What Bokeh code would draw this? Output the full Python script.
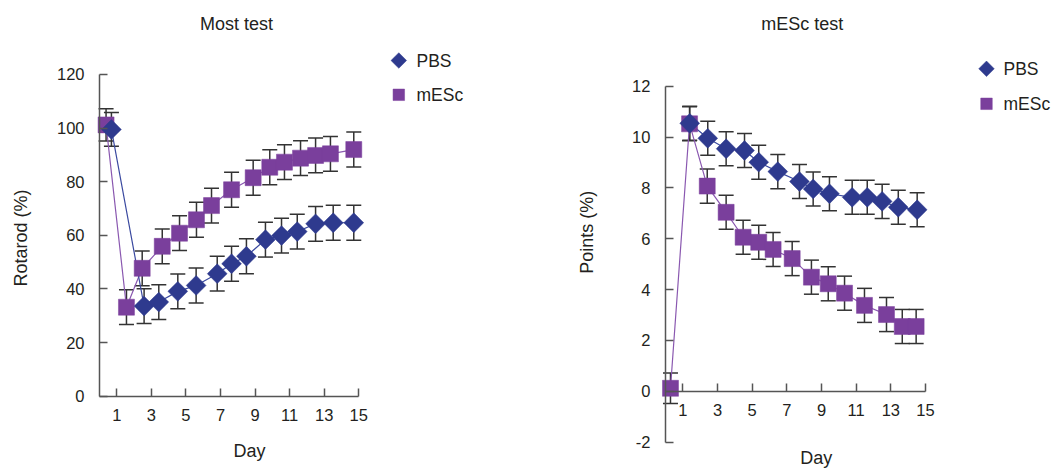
import math
from bokeh.plotting import figure
from bokeh.layouts import row
from bokeh.models import Range1d, FixedTicker, Whisker, TeeHead, ColumnDataSource
from bokeh.core.properties import value
from bokeh.embed import file_html
from bokeh.resources import INLINE

# ---------------- data ----------------
DAY_TICKS = [1, 3, 5, 7, 9, 11, 13, 15]
MOST_Y_TICKS = [0, 20, 40, 60, 80, 100, 120]
MESC_Y_TICKS = [-2, 0, 2, 4, 6, 8, 10, 12]
SERIES_NAMES = ["PBS", "mESc"]
PANEL_TITLES = ["Most test", "mESc test"]
X_LABEL = "Day"
Y_LABELS = ["Rotarod (%)", "Points (%)"]

MOST_PBS_DAY = [0.69, 2.58, 3.43, 4.53, 5.59, 6.81, 7.64, 8.50, 9.60, 10.53, 11.44, 12.50, 13.52, 14.71]
MOST_PBS_VAL = [99.5, 33.6, 35.1, 39.1, 41.3, 45.7, 49.4, 52.2, 58.4, 59.9, 61.4, 64.3, 64.7, 64.7]
MOST_PBS_ERR = [6.3, 6.5, 6.5, 6.5, 6.5, 6.5, 6.5, 6.5, 6.5, 6.5, 6.5, 6.5, 6.5, 6.5]

MOST_MESC_DAY = [0.38, 1.56, 2.47, 3.63, 4.63, 5.61, 6.48, 7.64, 8.89, 9.85, 10.70, 11.63, 12.50, 13.36, 14.71]
MOST_MESC_VAL = [101.2, 33.2, 47.7, 55.9, 60.8, 65.8, 71.1, 77.0, 81.5, 85.4, 87.3, 88.8, 89.8, 90.4, 92.0]
MOST_MESC_ERR = [6.0, 6.5, 6.5, 6.5, 6.5, 6.5, 6.5, 6.5, 6.5, 6.5, 6.5, 6.5, 6.5, 6.5, 6.5]

MESC_PBS_DAY = [1.40, 2.44, 3.50, 4.56, 5.38, 6.48, 7.73, 8.52, 9.46, 10.77, 11.64, 12.50, 13.43, 14.52]
MESC_PBS_VAL = [10.54, 9.95, 9.54, 9.47, 9.01, 8.64, 8.25, 7.96, 7.77, 7.63, 7.63, 7.47, 7.24, 7.14]
MESC_PBS_ERR = [0.67, 0.67, 0.67, 0.67, 0.67, 0.67, 0.67, 0.67, 0.67, 0.67, 0.67, 0.67, 0.67, 0.67]

MESC_MESC_DAY = [0.29, 1.39, 2.41, 3.50, 4.48, 5.38, 6.21, 7.31, 8.42, 9.39, 10.33, 11.48, 12.75, 13.66, 14.46]
MESC_MESC_VAL = [0.12, 10.52, 8.07, 7.04, 6.06, 5.86, 5.58, 5.22, 4.49, 4.23, 3.86, 3.38, 3.02, 2.55, 2.55]
MESC_MESC_ERR = [0.6, 0.67, 0.67, 0.67, 0.67, 0.67, 0.67, 0.67, 0.67, 0.67, 0.67, 0.67, 0.67, 0.67, 0.67]

# ---------------- styling / layout ----------------
FONT = "Liberation Sans"
TEXT_SIZE = "18px"
LEGEND_SIZE = "17.5px"
TICK_SIZE = "16.5px"
TEXT_COLOR = "#231f20"
AXIS_COLOR = "#555555"
ERR_COLOR = "#333333"
PBS_COLOR = "#2e3a8e"
MESC_COLOR = "#7a3f9c"
PBS_LINE = "#3b4aa0"
MESC_LINE = "#8a58b0"

PAGE_MARGIN = 0   # bokeh's page template has no body margin
CANVAS_H = 470
WIDTHS = [548, 505]

# page-pixel geometry of each panel's axes: (x origin px, px per day, y origin px, px per unit)
GEOMS = [(99.0, 17.286, 395.7, 2.681), (664.96, 17.336, 390.84, 25.43)]
Y_BOUNDS = [(0, 120), (-2, 12)]
Y_TICKS = [MOST_Y_TICKS, MESC_Y_TICKS]

# annotation anchors in page pixels
TITLE_PX = [(236, 23), (801.7, 23)]
DAY_PX = [(249, 450), (815.8, 457)]
YLABEL_PX = [(20.7, 237.5), (586.3, 231.7)]
LEGEND_MARK_X = [398.3, 986]
LEGEND_TEXT_X = [416, 1003]
LEGEND_ROWS = [(60, 94.3), (68.3, 103.3)]

SERIES = [
    [(MOST_MESC_DAY, MOST_MESC_VAL, MOST_MESC_ERR, "mESc"), (MOST_PBS_DAY, MOST_PBS_VAL, MOST_PBS_ERR, "PBS")],
    [(MESC_MESC_DAY, MESC_MESC_VAL, MESC_MESC_ERR, "mESc"), (MESC_PBS_DAY, MESC_PBS_VAL, MESC_PBS_ERR, "PBS")],
]


def build(i, canvas_left):
    W = WIDTHS[i]
    x0, xs, y0, ys = GEOMS[i]
    top = PAGE_MARGIN
    bottom = PAGE_MARGIN + CANVAS_H

    def dx(px):
        return (px - x0) / xs

    def dy(py):
        return (y0 - py) / ys

    p = figure(width=W, height=CANVAS_H, output_backend="svg", toolbar_location=None,
               x_range=Range1d(dx(canvas_left), dx(canvas_left + W)),
               y_range=Range1d(dy(bottom), dy(top)), title=None)
    p.min_border_left = p.min_border_right = p.min_border_top = p.min_border_bottom = 0
    p.outline_line_color = None
    p.grid.visible = False
    p.background_fill_color = "white"
    p.border_fill_color = "white"

    xa = p.xaxis[0]
    ya = p.yaxis[0]
    for ax in (xa, ya):
        ax.fixed_location = 0
        ax.axis_line_color = AXIS_COLOR
        ax.axis_line_width = 1.5
        ax.major_tick_line_color = AXIS_COLOR
        ax.major_tick_line_width = 1.5
        ax.major_tick_in = 8
        ax.major_tick_out = 0
        ax.minor_tick_line_color = None
        ax.major_label_text_font = FONT
        ax.major_label_text_font_size = TICK_SIZE
        ax.major_label_text_color = TEXT_COLOR
    xa.ticker = FixedTicker(ticks=DAY_TICKS)
    xa.bounds = (0, 15)
    xa.major_label_standoff = 13
    ya.ticker = FixedTicker(ticks=Y_TICKS[i])
    ya.bounds = Y_BOUNDS[i]
    ya.major_label_standoff = 15
    ya.major_label_overrides = {t: str(t) for t in Y_TICKS[i] if t < 0}

    colors = {"PBS": (PBS_COLOR, PBS_LINE), "mESc": (MESC_COLOR, MESC_LINE)}

    # error bars (below everything)
    for days, vals, errs, name in SERIES[i]:
        src = ColumnDataSource(dict(x=days, upper=[v + e for v, e in zip(vals, errs)],
                                    lower=[v - e for v, e in zip(vals, errs)]))
        w = Whisker(source=src, base="x", upper="upper", lower="lower",
                    line_color=ERR_COLOR, line_width=1.5, level="underlay",
                    upper_head=TeeHead(size=15, line_color=ERR_COLOR, line_width=1.5),
                    lower_head=TeeHead(size=15, line_color=ERR_COLOR, line_width=1.5))
        p.add_layout(w)

    for days, vals, errs, name in SERIES[i]:
        p.line(days, vals, line_color=colors[name][1], line_width=1.2)
    for days, vals, errs, name in SERIES[i]:
        if name == "PBS":
            p.scatter(days, vals, marker="square", angle=math.pi / 4, size=14,
                      fill_color=PBS_COLOR, line_color=PBS_COLOR, line_width=0.5)
        else:
            p.scatter(days, vals, marker="square", size=16,
                      fill_color=MESC_COLOR, line_color=MESC_COLOR, line_width=0.5)

    # title, axis labels
    tx, ty = TITLE_PX[i]
    p.text(x=[dx(tx)], y=[dy(ty)], text=[PANEL_TITLES[i]], text_font=value(FONT),
           text_font_size=TEXT_SIZE, text_color=TEXT_COLOR, text_align="center", text_baseline="middle")
    ddx, ddy = DAY_PX[i]
    p.text(x=[dx(ddx)], y=[dy(ddy)], text=[X_LABEL], text_font=value(FONT),
           text_font_size=TEXT_SIZE, text_color=TEXT_COLOR, text_align="center", text_baseline="middle")
    lx, ly = YLABEL_PX[i]
    p.text(x=[dx(lx)], y=[dy(ly)], text=[Y_LABELS[i]], text_font=value(FONT), angle=math.pi / 2,
           text_font_size=TEXT_SIZE, text_color=TEXT_COLOR, text_align="center", text_baseline="middle")

    # legend
    r1, r2 = LEGEND_ROWS[i]
    mx = dx(LEGEND_MARK_X[i])
    p.scatter([mx], [dy(r1)], marker="square", angle=math.pi / 4, size=11,
              fill_color=PBS_COLOR, line_color=PBS_COLOR, line_width=0.5)
    p.scatter([mx], [dy(r2)], marker="square", size=11.5,
              fill_color=MESC_COLOR, line_color=MESC_COLOR, line_width=0.5)
    p.text(x=[dx(LEGEND_TEXT_X[i])] * 2, y=[dy(r1), dy(r2)], text=SERIES_NAMES,
           text_font=value(FONT), text_font_size=LEGEND_SIZE, text_color=TEXT_COLOR,
           text_align="left", text_baseline="middle")
    return p


left = build(0, PAGE_MARGIN)
right = build(1, PAGE_MARGIN + WIDTHS[0])
layout = row(left, right)

open("out.html", "w").write(file_html(layout, INLINE))
